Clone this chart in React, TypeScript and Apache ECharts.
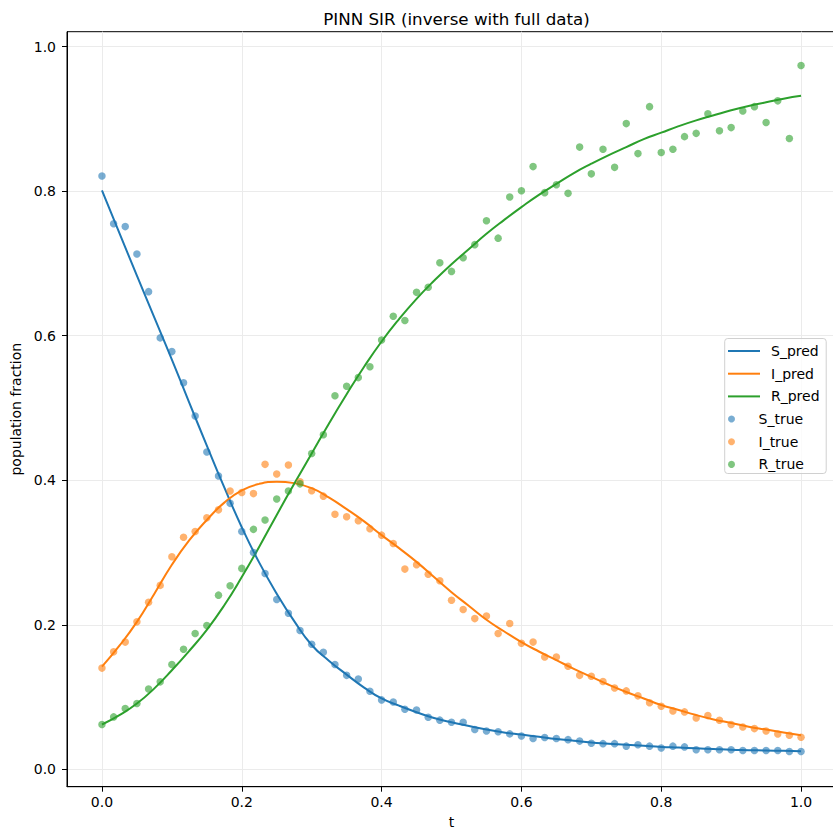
import React, { useEffect, useRef } from "react";
import * as echarts from "echarts";

const T_OBS = [
  0, 0.0167, 0.0333, 0.05, 0.0667, 0.0833, 0.1, 0.1167, 0.1333, 0.15, 0.1667, 0.1833, 0.2, 0.2167, 0.2333, 0.25,
  0.2667, 0.2833, 0.3, 0.3167, 0.3333, 0.35, 0.3667, 0.3833, 0.4, 0.4167, 0.4333, 0.45, 0.4667, 0.4833, 0.5,
  0.5167, 0.5333, 0.55, 0.5667, 0.5833, 0.6, 0.6167, 0.6333, 0.65, 0.6667, 0.6833, 0.7, 0.7167, 0.7333, 0.75,
  0.7667, 0.7833, 0.8, 0.8167, 0.8333, 0.85, 0.8667, 0.8833, 0.9, 0.9167, 0.9333, 0.95, 0.9667, 0.9833, 1,
];

const S_TRUE = [
  0.821, 0.755, 0.751, 0.713, 0.661, 0.597, 0.578, 0.535, 0.489, 0.439, 0.406, 0.368, 0.329, 0.3, 0.271, 0.235,
  0.216, 0.192, 0.173, 0.162, 0.145, 0.13, 0.125, 0.108, 0.096, 0.093, 0.083, 0.082, 0.072, 0.068, 0.065,
  0.065, 0.055, 0.053, 0.052, 0.049, 0.046, 0.0425, 0.044, 0.0425, 0.041, 0.039, 0.036, 0.0355, 0.0355, 0.032,
  0.034, 0.032, 0.0295, 0.032, 0.031, 0.027, 0.027, 0.027, 0.027, 0.026, 0.026, 0.026, 0.026, 0.0245, 0.0245,
];

const I_TRUE = [
  0.14, 0.1625, 0.176, 0.204, 0.231, 0.2545, 0.294, 0.321, 0.329, 0.348, 0.359, 0.385, 0.383, 0.3815, 0.422, 0.4086,
  0.421, 0.398, 0.3855, 0.378, 0.353, 0.3495, 0.344, 0.333, 0.324, 0.3125, 0.277, 0.283, 0.27, 0.261, 0.234,
  0.221, 0.2085, 0.212, 0.188, 0.2018, 0.1745, 0.176, 0.1555, 0.1555, 0.1427, 0.13, 0.1288, 0.1214, 0.1126, 0.1085,
  0.1016, 0.092, 0.0873, 0.0808, 0.0794, 0.0711, 0.0743, 0.0679, 0.0619, 0.0586, 0.0563, 0.053, 0.0489, 0.047, 0.0443,
];

const R_TRUE = [
  0.0619, 0.0725, 0.084, 0.091, 0.111, 0.121, 0.145, 0.166, 0.188, 0.199, 0.241, 0.254, 0.278, 0.332, 0.345, 0.374,
  0.385, 0.395, 0.437, 0.463, 0.517, 0.53, 0.542, 0.557, 0.594, 0.627, 0.621, 0.66, 0.667, 0.701, 0.689,
  0.708, 0.726, 0.759, 0.735, 0.792, 0.8006, 0.834, 0.798, 0.809, 0.797, 0.861, 0.824, 0.858, 0.833, 0.8935,
  0.852, 0.917, 0.8536, 0.858, 0.8755, 0.88, 0.907, 0.8837, 0.888, 0.911, 0.917, 0.895, 0.925, 0.873, 0.974,
];

const T_PRED = [
  0, 0.025, 0.05, 0.075, 0.1, 0.125, 0.15, 0.175, 0.2, 0.225, 0.25, 0.275, 0.3, 0.325, 0.35, 0.375, 0.4, 0.425, 0.45,
  0.475, 0.5, 0.525, 0.55, 0.575, 0.6, 0.625, 0.65, 0.675, 0.7, 0.725, 0.75, 0.775, 0.8, 0.825, 0.85, 0.875, 0.9,
  0.925, 0.95, 0.975, 1,
];
const S_PRED = [
  0.801, 0.742, 0.683, 0.625, 0.567, 0.507, 0.448, 0.39, 0.335, 0.286, 0.243, 0.205, 0.172, 0.15, 0.131, 0.113, 0.098,
  0.088, 0.079, 0.071, 0.065, 0.06, 0.055, 0.051, 0.048, 0.045, 0.042, 0.0395, 0.037, 0.0355, 0.034, 0.0325, 0.031,
  0.03, 0.029, 0.028, 0.027, 0.0265, 0.026, 0.0255, 0.025,
];
const I_PRED = [
  0.142, 0.171, 0.204, 0.243, 0.283, 0.317, 0.345, 0.369, 0.386, 0.395, 0.398, 0.396, 0.389, 0.376, 0.36, 0.343,
  0.324, 0.306, 0.287, 0.266, 0.245, 0.226, 0.207, 0.191, 0.176, 0.163, 0.151, 0.139, 0.128, 0.117, 0.107, 0.098,
  0.089, 0.082, 0.075, 0.069, 0.064, 0.059, 0.055, 0.051, 0.047,
];
const R_PRED = [
  0.062, 0.075, 0.091, 0.112, 0.137, 0.164, 0.193, 0.227, 0.266, 0.308, 0.352, 0.395, 0.437, 0.479, 0.519, 0.557, 0.592,
  0.623, 0.651, 0.676, 0.699, 0.72, 0.741, 0.76, 0.778, 0.795, 0.81, 0.825, 0.838, 0.85, 0.861, 0.872, 0.881, 0.89,
  0.898, 0.905, 0.912, 0.918, 0.923, 0.928, 0.932,
];

const X_TICKS = [0, 0.2, 0.4, 0.6, 0.8, 1.0];
const Y_TICKS = [0, 0.2, 0.4, 0.6, 0.8, 1.0];

const C_S = "#1f77b4";
const C_I = "#ff7f0e";
const C_R = "#2ca02c";
const FONT = "DejaVu Sans";

const zip = (xs: number[], ys: number[]) => xs.map((x, i) => [x, ys[i]]);

export default function App() {
  const ref = useRef<HTMLDivElement>(null);
  useEffect(() => {
    if (!ref.current) return;
    const chart = echarts.init(ref.current, undefined, { renderer: "svg" });
    const lineSeries = (name: string, data: number[], color: string) => ({
      type: "line",
      name,
      data: zip(T_PRED, data),
      smooth: true,
      symbol: "none",
      showSymbol: false,
      lineStyle: { width: 2, color },
      itemStyle: { color },
      z: 2,
    });
    const scatterSeries = (name: string, data: number[], color: string) => ({
      type: "scatter",
      name,
      data: zip(T_OBS, data),
      symbolSize: 7.5,
      itemStyle: { color, opacity: 0.6 },
      z: 3,
    });
    const axisCommon = {
      type: "value",
      nameLocation: "middle",
      nameTextStyle: { fontFamily: FONT, fontSize: 14, color: "#000" },
      axisLine: { show: true, onZero: false, lineStyle: { color: "#000", width: 1 } },
      splitLine: { show: true, lineStyle: { color: "#ebebeb", width: 1 } },
    };
    const legendText = { fontFamily: FONT, fontSize: 14, color: "#000", lineHeight: 14, padding: [0, 0, 0, 6] };
    chart.setOption({
      animation: false,
      backgroundColor: "#fff",
      title: {
        text: "PINN SIR (inverse with full data)",
        left: 451.5,
        textAlign: "center",
        top: 5,
        textStyle: { fontFamily: FONT, fontSize: 16.7, fontWeight: "normal", color: "#000" },
      },
      grid: {
        left: 67,
        right: -3,
        top: 31.7,
        bottom: 48.3,
        containLabel: false,
        outerBoundsMode: "none",
        show: true,
        borderColor: "#000",
        borderWidth: 1,
        backgroundColor: "transparent",
      },
      xAxis: {
        ...axisCommon,
        min: -0.05,
        max: 1.05,
        splitNumber: 5,
        name: "t",
        nameGap: 28,
        axisTick: { show: true, length: 5, customValues: X_TICKS, lineStyle: { color: "#000" } },
        axisLabel: {
          customValues: X_TICKS,
          formatter: (v: number) => v.toFixed(1),
          fontFamily: FONT,
          fontSize: 14,
          color: "#000",
          margin: 8,
        },
      },
      yAxis: {
        ...axisCommon,
        min: -0.0241,
        max: 1.0207,
        splitNumber: 5,
        name: "population fraction",
        nameGap: 43,
        axisTick: { show: true, length: 5, customValues: Y_TICKS, lineStyle: { color: "#000" } },
        axisLabel: {
          customValues: Y_TICKS,
          formatter: (v: number) => v.toFixed(1),
          fontFamily: FONT,
          fontSize: 14,
          color: "#000",
          margin: 11,
        },
      },
      legend: [
        {
          data: ["S_pred", "I_pred", "R_pred"],
          orient: "vertical",
          left: 728,
          top: 344,
          padding: 0,
          icon: "rect",
          itemWidth: 32,
          itemHeight: 2,
          itemGap: 8.7,
          z: 10,
          textStyle: legendText,
        },
        {
          data: ["S_true", "I_true", "R_true"],
          orient: "vertical",
          left: 728,
          top: 412,
          padding: 0,
          icon: "circle",
          itemWidth: 32,
          itemHeight: 7,
          itemGap: 8.7,
          z: 10,
          itemStyle: { opacity: 0.6 },
          textStyle: legendText,
        },
      ],
      graphic: [
        {
          type: "rect",
          z: 5,
          shape: { x: 724.7, y: 338.5, width: 101.5, height: 135, r: 3 },
          style: { fill: "rgba(255,255,255,0.8)", stroke: "#d0d0d0", lineWidth: 1 },
        },
      ],
      series: [
        lineSeries("S_pred", S_PRED, C_S),
        lineSeries("I_pred", I_PRED, C_I),
        lineSeries("R_pred", R_PRED, C_R),
        scatterSeries("S_true", S_TRUE, C_S),
        scatterSeries("I_true", I_TRUE, C_I),
        scatterSeries("R_true", R_TRUE, C_R),
      ],
    });
    return () => chart.dispose();
  }, []);
  return <div ref={ref} style={{ position: "fixed", left: 0, top: 0, width: 833, height: 835 }} />;
}
